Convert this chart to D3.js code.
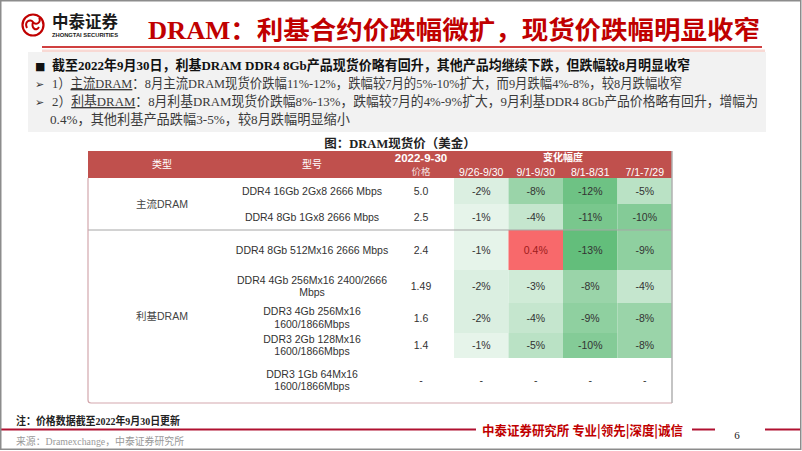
<!DOCTYPE html>
<html><head><meta charset="utf-8">
<script src="https://cdn.jsdelivr.net/npm/d3@7"></script>
<style>body{margin:0;background:#fff} svg{display:block}</style>
</head><body><svg id="c" width="802" height="451"></svg>
<script>
// ---------- data ----------
const titleText = "DRAM：利基合约价跌幅微扩，现货价跌幅明显收窄";
const summaryLine = "截至2022年9月30日，利基DRAM DDR4 8Gb产品现货价略有回升，其他产品均继续下跌，但跌幅较8月明显收窄";
const point1 = [["1）", false], ["主流DRAM", true], ["：8月主流DRAM现货价跌幅11%-12%，跌幅较7月的5%-10%扩大，而9月跌幅4%-8%，较8月跌幅收窄", false]];
const point2 = [["2）", false], ["利基DRAM", true], ["：8月利基DRAM现货价跌幅8%-13%，跌幅较7月的4%-9%扩大，9月利基DDR4 8Gb产品价格略有回升，增幅为", false]];
const point2cont = "0.4%，其他利基产品跌幅3-5%，较8月跌幅明显缩小";
const chartTitle = "图：DRAM现货价（美金）";
const headerType = "类型";
const headerModel = "型号";
const priceDate = "2022-9-30";
const priceLabel = "价格";
const changeLabel = "变化幅度";
const typeLabels = ["主流DRAM", "利基DRAM"];
const typeRowCounts = [2, 5];
const models = [
  ["DDR4 16Gb 2Gx8 2666 Mbps"],
  ["DDR4 8Gb 1Gx8 2666 Mbps"],
  ["DDR4 8Gb 512Mx16 2666 Mbps"],
  ["DDR4 4Gb 256Mx16 2400/2666", "Mbps"],
  ["DDR3 4Gb 256Mx16", "1600/1866Mbps"],
  ["DDR3 2Gb 128Mx16", "1600/1866Mbps"],
  ["DDR3 1Gb 64Mx16", "1600/1866Mbps"]
];
const prices = ["5.0", "2.5", "2.4", "1.49", "1.6", "1.4", "-"];
const periods = ["9/26-9/30", "9/1-9/30", "8/1-8/31", "7/1-7/29"];
const changes = [
  [-2, -8, -12, -5],
  [-1, -4, -11, -10],
  [-1, 0.4, -13, -9],
  [-2, -3, -8, -4],
  [-2, -4, -9, -8],
  [-1, -5, -10, -8],
  [null, null, null, null]
];
const note = "注：价格数据截至2022年9月30日更新";
const source = "来源：Dramexchange，中泰证券研究所";
const slogan = "中泰证券研究所 专业|领先|深度|诚信";
const pageNo = "6";
const logoCn = "中泰证券";
const logoEn = "ZHONGTAI SECURITIES";

// ---------- layout ----------
const svg = d3.select("#c");
const RED = "#c00000";
const CJK = "'Noto Sans CJK SC', sans-serif";
const SERIFMIX = "'Liberation Serif', 'Noto Sans CJK SC', serif";
const ARIAL = "'Liberation Sans', Arial, 'Noto Sans CJK SC', sans-serif";

svg.append("rect").attr("x", 0).attr("y", 0).attr("width", 802).attr("height", 451).attr("fill", "#fff");

// logo
const logo = svg.append("g");
logo.append("circle").attr("cx", 33).attr("cy", 25).attr("r", 10.5).attr("fill", "none").attr("stroke", RED).attr("stroke-width", 2.2);
logo.append("path").attr("d", "M27,28 C24,22 30,18 33,22 C36,26 42,22 39,18 M33,22 C31,28 36,32 39,27")
  .attr("fill", "none").attr("stroke", RED).attr("stroke-width", 2);
logo.append("text").attr("x", 52).attr("y", 28).attr("font-family", CJK).attr("font-weight", 700)
  .attr("font-size", 16.5).attr("fill", "#1a1a1a").attr("textLength", 66).attr("lengthAdjust", "spacingAndGlyphs").text(logoCn);
logo.append("text").attr("x", 52).attr("y", 37).attr("font-family", ARIAL).attr("font-weight", 700)
  .attr("font-size", 5).attr("fill", "#1a1a1a").attr("textLength", 66).attr("lengthAdjust", "spacingAndGlyphs").text(logoEn);

// title
svg.append("text").attr("x", 148).attr("y", 39).attr("font-family", SERIFMIX).attr("font-weight", 700)
  .attr("font-size", 25).attr("fill", RED).attr("textLength", 612).attr("lengthAdjust", "spacingAndGlyphs").text(titleText);
svg.append("line").attr("x1", 42).attr("x2", 762).attr("y1", 47).attr("y2", 47).attr("stroke", RED).attr("stroke-width", 1.5);

// summary box
svg.append("rect").attr("x", 42).attr("y", 49.5).attr("width", 723).attr("height", 2.5).attr("fill", "#f8d9d4");
svg.append("rect").attr("x", 28).attr("y", 52).attr("width", 738).attr("height", 80).attr("fill", "#f2f2f2");
svg.append("text").attr("x", 35).attr("y", 69.5).attr("font-family", "'DejaVu Sans'").attr("font-size", 11).attr("fill", "#111").text("■");
svg.append("text").attr("x", 52).attr("y", 70).attr("font-family", SERIFMIX).attr("font-weight", 700)
  .attr("font-size", 13.5).attr("fill", "#111").attr("textLength", 638).attr("lengthAdjust", "spacingAndGlyphs").text(summaryLine);

function bulletLine(parts, y, len) {
  svg.append("text").attr("x", 35).attr("y", y).attr("font-family", "'DejaVu Sans'").attr("font-size", 11).attr("fill", "#333").text("➢");
  const t = svg.append("text").attr("x", 52).attr("y", y).attr("font-family", SERIFMIX)
    .attr("font-size", 13.5).attr("fill", "#3a3a3a").attr("textLength", len).attr("lengthAdjust", "spacingAndGlyphs");
  parts.forEach(([s, u]) => {
    const ts = t.append("tspan").text(s);
    if (u) ts.attr("text-decoration", "underline");
  });
}
bulletLine(point1, 88, 630);
bulletLine(point2, 106, 706);
svg.append("text").attr("x", 50).attr("y", 124).attr("font-family", SERIFMIX)
  .attr("font-size", 13.5).attr("fill", "#3a3a3a").attr("textLength", 300).attr("lengthAdjust", "spacingAndGlyphs").text(point2cont);

// chart title
svg.append("text").attr("x", 400).attr("y", 147.5).attr("text-anchor", "middle").attr("font-family", SERIFMIX)
  .attr("font-weight", 700).attr("font-size", 12.5).attr("fill", "#222").text(chartTitle);

// ---------- table ----------
const tableLeft = 88, tableRight = 672, headTop = 151, headBottom = 178, tableBottom = 403;
const rowEdges = [178, 204, 230, 270, 303, 333, 358, 403];
const rowY = i => rowEdges[i];
const rowH = i => rowEdges[i + 1] - rowEdges[i];
const x = d3.scaleBand().domain(periods).range([454, 672]).padding(0);
const typeX = 162, modelX = 312, priceX = 421;
const color = d3.scaleLinear().domain([-13, 0, 0.4]).range(["#63BE7B", "#F1F8F3", "#F8696B"]);

// header
svg.append("rect").attr("x", tableLeft).attr("y", headTop).attr("width", tableRight - tableLeft).attr("height", headBottom - headTop).attr("fill", "#c0504d");
const hdr = svg.append("g").attr("fill", "#fff").attr("text-anchor", "middle");
hdr.append("text").attr("x", typeX).attr("y", 168).attr("font-family", CJK).attr("font-size", 10).text(headerType);
hdr.append("text").attr("x", modelX).attr("y", 168).attr("font-family", CJK).attr("font-size", 10).text(headerModel);
hdr.append("text").attr("x", priceX).attr("y", 162).attr("font-family", ARIAL).attr("font-weight", 700).attr("font-size", 11.5).text(priceDate);
hdr.append("text").attr("x", priceX).attr("y", 175).attr("font-family", CJK).attr("font-size", 9.5).attr("fill-opacity", 0.85).text(priceLabel);
hdr.append("text").attr("x", (x.range()[0] + x.range()[1]) / 2).attr("y", 161).attr("font-family", CJK).attr("font-weight", 700).attr("font-size", 10).text(changeLabel);
hdr.selectAll(".per").data(periods).join("text").attr("x", d => x(d) + x.bandwidth() / 2).attr("y", 176)
  .attr("font-family", ARIAL).attr("font-size", 10.5).text(d => d);

// heat cells
const cells = [];
changes.forEach((row, i) => row.forEach((v, j) => cells.push({ i, p: periods[j], v })));
svg.append("g").selectAll("rect").data(cells.filter(c => c.v !== null)).join("rect")
  .attr("x", d => x(d.p)).attr("y", d => rowY(d.i)).attr("width", x.bandwidth()).attr("height", d => rowH(d.i))
  .attr("fill", d => color(d.v));
svg.append("g").selectAll("text").data(cells).join("text")
  .attr("x", d => x(d.p) + x.bandwidth() / 2).attr("y", d => rowY(d.i) + rowH(d.i) / 2 + 3.5)
  .attr("text-anchor", "middle").attr("font-family", ARIAL).attr("font-size", 10.5)
  .attr("fill", d => d.v !== null && d.v > 0 ? "#9c1c1c" : "#333")
  .text(d => d.v === null ? "-" : (d.v > 0 ? d.v.toFixed(1) : d.v) + "%");

// price & model
svg.append("g").selectAll("text").data(prices).join("text")
  .attr("x", priceX).attr("y", (d, i) => rowY(i) + rowH(i) / 2 + 3.5).attr("text-anchor", "middle")
  .attr("font-family", ARIAL).attr("font-size", 10.5).attr("fill", "#333").text(d => d);
const mg = svg.append("g").attr("font-family", ARIAL).attr("font-size", 10.5).attr("fill", "#333").attr("text-anchor", "middle");
models.forEach((lines, i) => {
  const cy = rowY(i) + rowH(i) / 2;
  lines.forEach((s, k) => {
    mg.append("text").attr("x", modelX).attr("y", cy + 3.5 + (k - (lines.length - 1) / 2) * 12.5).text(s);
  });
});

// type labels
let start = 0;
typeLabels.forEach((lab, g) => {
  const top = rowY(start), bot = rowY(start + typeRowCounts[g]);
  svg.append("text").attr("x", typeX).attr("y", (top + bot) / 2 + 3.5).attr("text-anchor", "middle")
    .attr("font-family", ARIAL).attr("font-size", 10.5).attr("fill", "#444").text(lab);
  start += typeRowCounts[g];
});

// table borders
svg.append("line").attr("x1", tableLeft).attr("x2", tableRight).attr("y1", rowY(2)).attr("y2", rowY(2)).attr("stroke", "#a6a6a6").attr("stroke-width", 1);
svg.append("path").attr("d", `M${tableLeft},${headBottom} V${tableBottom - 3} Q${tableLeft},${tableBottom} ${tableLeft + 3},${tableBottom} H${tableRight}`)
  .attr("fill", "none").attr("stroke", "#d3a7ad").attr("stroke-width", 1.2);
svg.append("line").attr("x1", tableRight).attr("x2", tableRight).attr("y1", headTop).attr("y2", tableBottom).attr("stroke", "#b0b0b0").attr("stroke-width", 1.5);

// footer
svg.append("text").attr("x", 16).attr("y", 425).attr("font-family", SERIFMIX).attr("font-weight", 700)
  .attr("font-size", 11).attr("fill", "#222").attr("textLength", 164).attr("lengthAdjust", "spacingAndGlyphs").text(note);
svg.append("line").attr("x1", 1).attr("x2", 476).attr("y1", 429.5).attr("y2", 429.5).attr("stroke", "#b01030").attr("stroke-width", 2);
svg.append("text").attr("x", 482).attr("y", 435).attr("font-family", CJK).attr("font-weight", 700)
  .attr("font-size", 13).attr("fill", RED).attr("textLength", 201).attr("lengthAdjust", "spacingAndGlyphs").text(slogan);
svg.append("line").attr("x1", 692).attr("x2", 715).attr("y1", 429.5).attr("y2", 429.5).attr("stroke", "#b01030").attr("stroke-width", 2);
svg.append("text").attr("x", 737).attr("y", 439).attr("text-anchor", "middle").attr("font-family", "'Liberation Serif'")
  .attr("font-size", 11).attr("fill", "#222").text(pageNo);
svg.append("line").attr("x1", 765).attr("x2", 801).attr("y1", 429.5).attr("y2", 429.5).attr("stroke", "#b01030").attr("stroke-width", 2);
svg.append("text").attr("x", 16).attr("y", 445).attr("font-family", SERIFMIX)
  .attr("font-size", 10).attr("fill", "#999").attr("textLength", 168).attr("lengthAdjust", "spacingAndGlyphs").text(source);

// slide frame
svg.append("rect").attr("x", 0.75).attr("y", 0.75).attr("width", 800).attr("height", 448.5).attr("fill", "none").attr("stroke", "#8c8c8c").attr("stroke-width", 1.5);
</script></body></html>
